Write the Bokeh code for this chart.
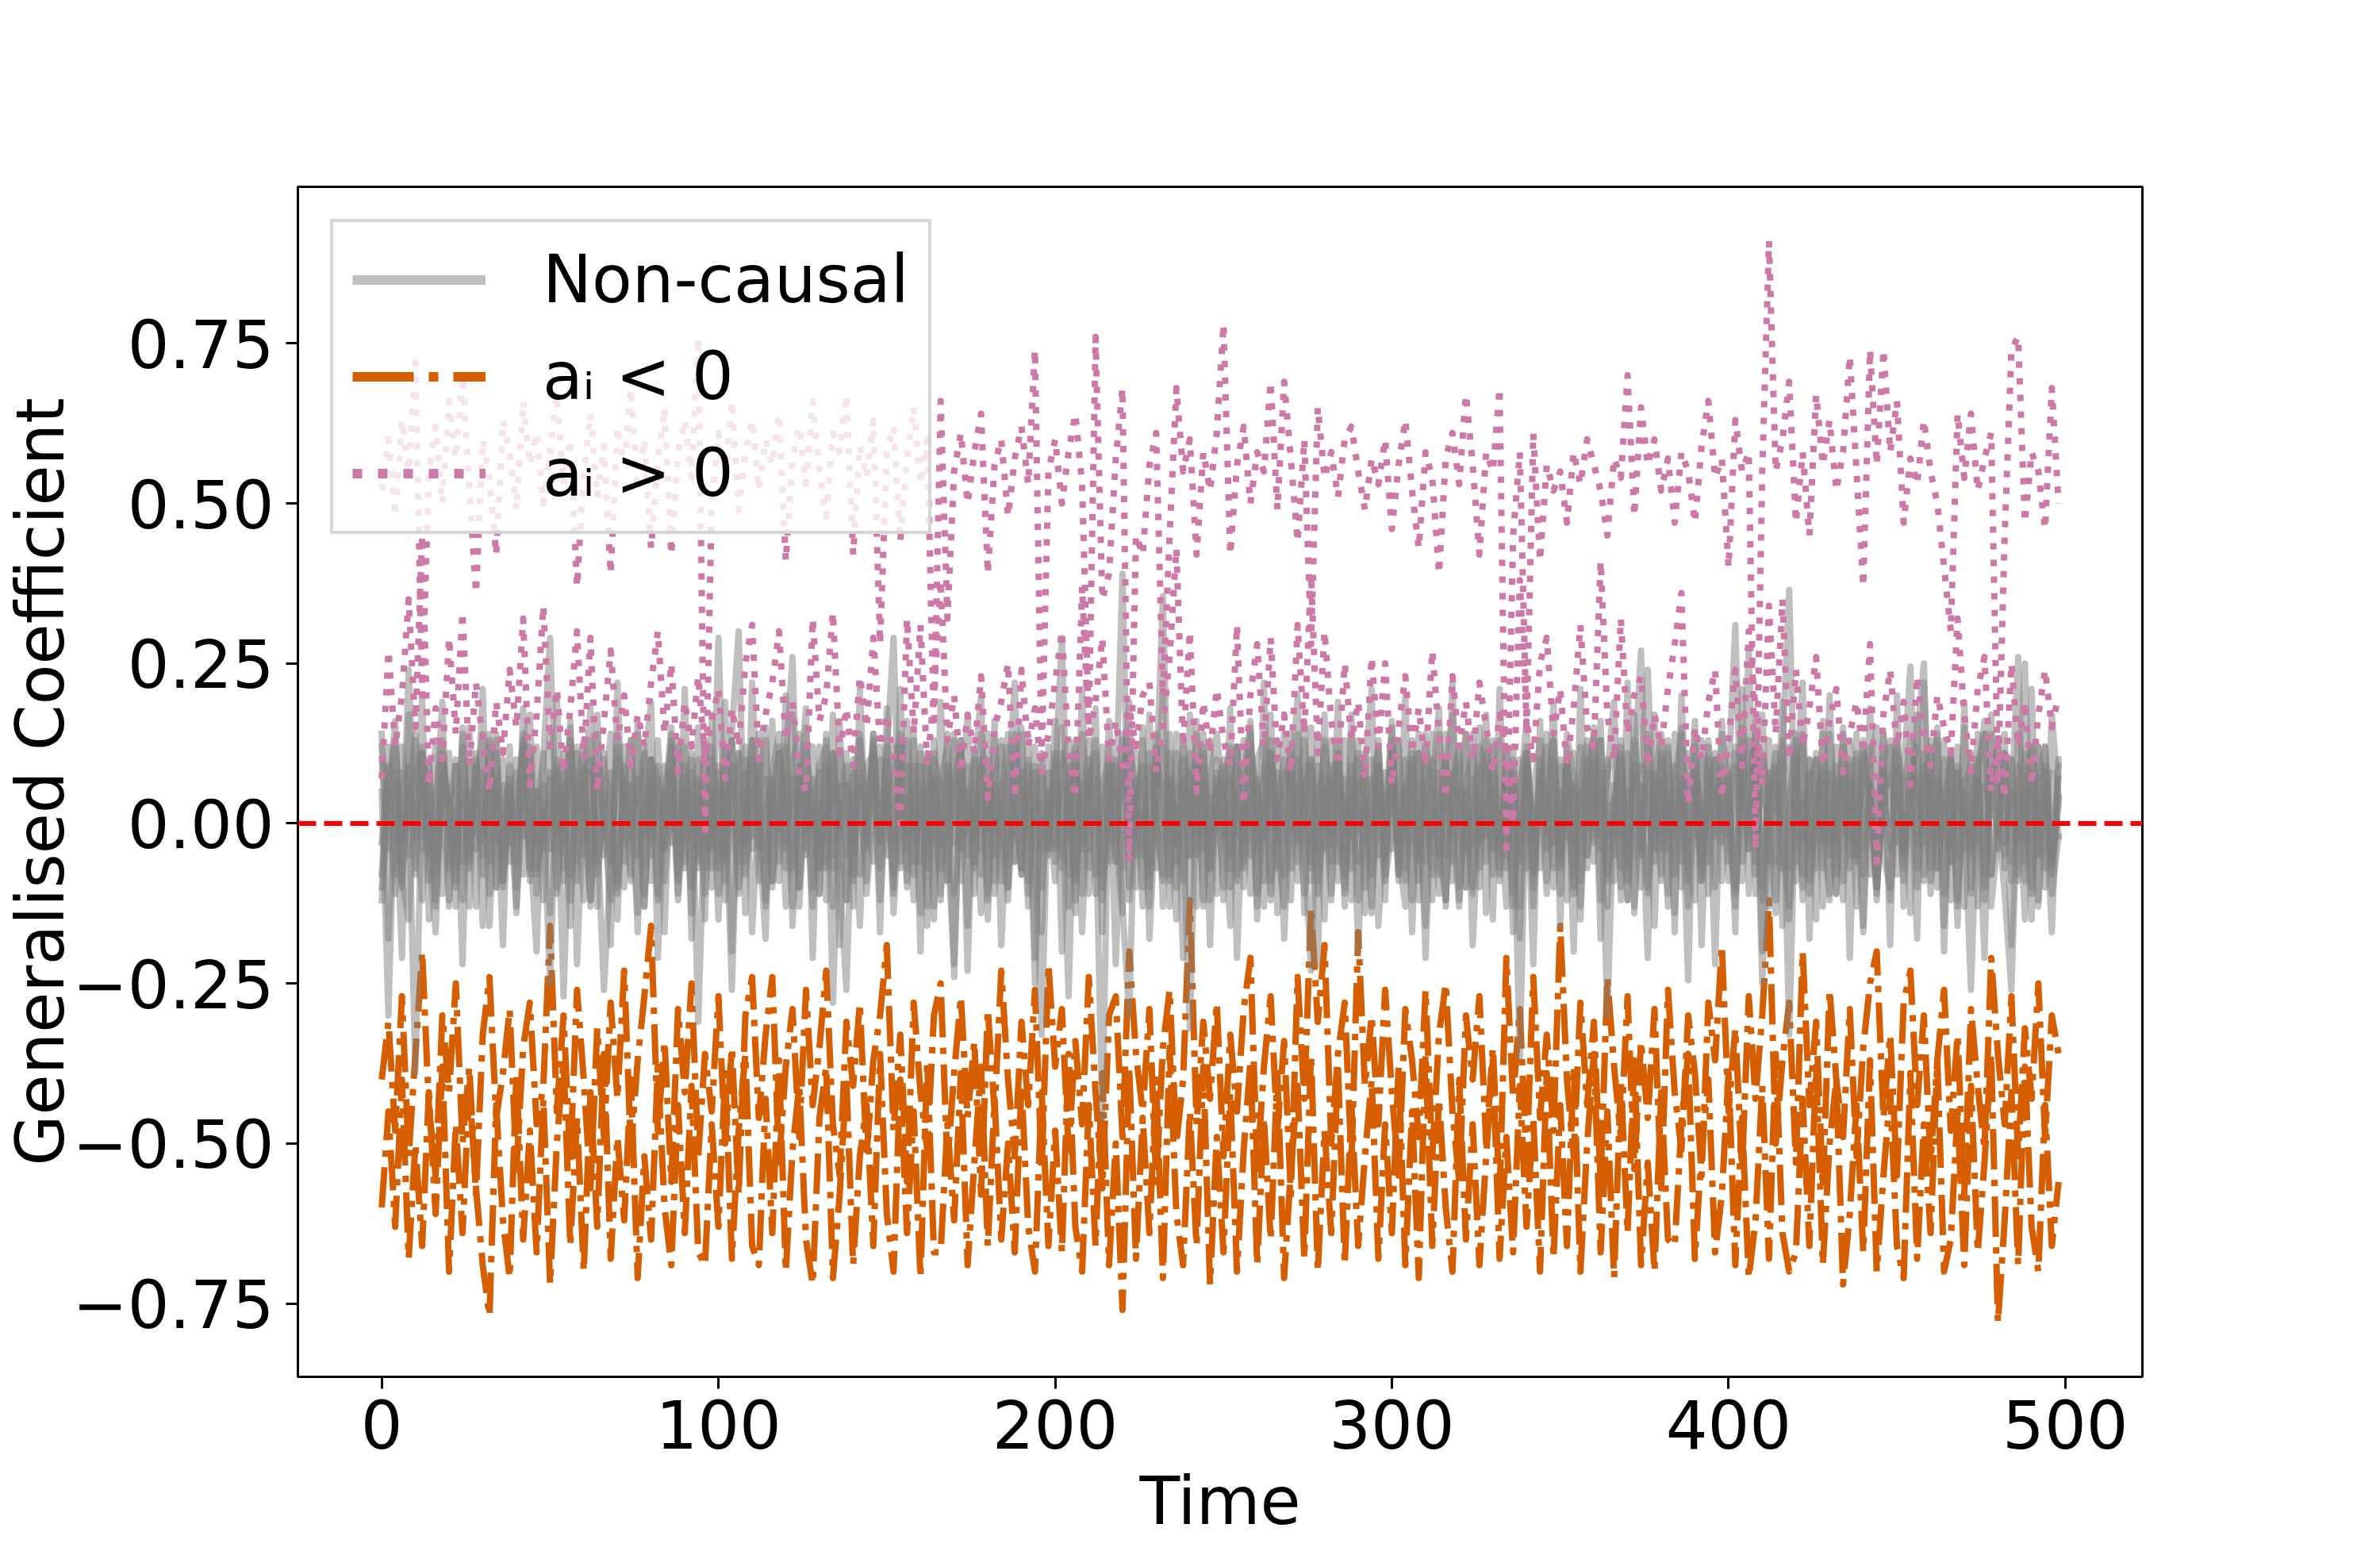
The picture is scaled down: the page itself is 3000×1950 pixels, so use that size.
from bokeh.plotting import figure
from bokeh.models import (Range1d, FixedTicker, CustomJSTickFormatter, Span,
                          Legend, LegendItem)
from bokeh.embed import file_html
from bokeh.resources import INLINE

# ---------------- data ----------------
TIME = list(range(0, 500, 2))
X_TICKS = [0, 100, 200, 300, 400, 500]
Y_TICKS = [-0.75, -0.5, -0.25, 0.0, 0.25, 0.5, 0.75]
LEGEND_LABELS = ["Non-causal", "a\u1d62 < 0", "a\u1d62 > 0"]
X_LABEL = "Time"
Y_LABEL = "Generalised Coefficient"

NONCAUSAL_1 = [
    .05, -.30, .08, -.06, .24, -.02, .11, -.09, .04, .13, -.07, .02, -.12, .09, .00, -.05, .14, -.10, .06, -.03, .10, -.08, .03, .12, -.04,
    .07, -.11, .02, .15, -.06, .09, -.13, .04, .11, -.02, -.09, .06, .13, -.05, .01, .10, -.12, .05, -.03, .12, -.07, .08, -.31, .03, -.04,
    .09, -.05, .14, .30, -.08, .02, .10, -.13, .06, -.01, .12, -.07, .04, .15, -.10, .03, -.06, .11, .00, -.12, .08, .05, -.09, .13, -.03,
    .06, -.10, .12, -.04, .09, -.14, .03, .11, -.07, .01, .14, -.09, .05, -.02, .10, -.11, .07, .13, -.05, .02, -.08, .09, -.03, -.33, .08,
    -.06, .11, .02, -.09, .14, -.04, .07, -.12, .03, .10, -.07, .05, -.02, .13, -.10, .06, .355, -.08, .01, .12, -.05, .09, -.13, .04, -.01,
    .10, -.07, .03, .13, -.11, .06, -.02, .09, -.14, .04, .11, -.06, .01, .15, -.09, .05, -.03, .12, -.08, .07, -.12, .02, .10, -.05, .08,
    -.04, .12, -.09, .05, .14, -.06, .02, -.11, .09, .00, -.13, .07, .11, -.03, .04, -.08, .13, -.05, .06, -.365, .10, -.07, .03, .12, -.10,
    .05, -.02, .11, -.09, .07, .14, -.12, .03, -.05, .10, -.07, .13, .01, -.10, .08, -.04, .12, -.08, .06, -.13, .09, .02, -.06, .11, -.03,
    .08, -.11, .04, .13, -.06, .10, -.02, -.14, .07, .12, -.09, .03, -.05, .11, .00, -.12, .09, .05, -.07, .14, -.04, .06, -.10, .02, .12,
    -.08, .05, .13, -.03, .09, -.11, .07, .01, -.06, .12, -.13, .04, .10, -.08, .06, -.02, .11, .03, .26, -.09, .08, -.05, .12, -.07, .03,
]
NONCAUSAL_2 = [
    -.03, .09, -.08, .12, .04, -.39, .07, -.05, .13, -.11, .02, .10, -.06, .05, -.13, .08, .00, .11, -.09, .06, -.02, .14, -.07, .03, .10,
    .29, -.04, .08, -.12, .03, .11, -.07, .14, -.02, .06, -.10, .09, .01, -.14, .12, -.05, .07, -.09, .04, .13, -.06, .02, .10, -.11, .05,
    -.07, .12, .03, -.10, .08, -.02, .14, -.06, .05, .11, -.13, .01, .09, -.04, .07, -.11, .13, -.28, .06, -.05, .10, -.08, .02, .12, -.03,
    .11, .29, -.06, .04, -.12, .09, -.03, .13, .00, -.09, .07, .12, -.05, .03, -.14, .10, -.01, .06, -.10, .14, -.07, .05, .09, -.04, .02,
    -.09, .06, -.27, .12, -.04, .10, -.11, .03, .08, -.06, .13, -.02, .05, -.13, .09, .01, -.08, .11, -.03, .07, -.12, .14, .00, -.07, .10,
    .04, -.10, .12, -.05, .08, -.13, .02, .11, -.07, .14, -.01, .06, -.11, .09, -.04, .13, .03, -.09, .07, -.02, .10, -.14, .05, .12, -.06,
    .09, -.03, .06, -.12, .11, .02, -.08, .14, -.05, .07, .12, -.10, .01, .09, -.06, .13, -.02, .04, -.11, .10, -.07, .05, .13, -.09, .03,
    -.05, .10, -.08, .06, .13, -.02, .08, -.30, .04, -.07, .11, .01, -.10, .14, -.04, .07, -.13, .09, .02, -.06, .12, -.09, .05, .10, -.01,
    .07, .31, -.06, .03, .12, -.10, .05, .09, -.04, -.13, .11, -.02, .08, -.07, .14, .00, -.11, .06, .10, -.05, .13, -.08, .02, .09, -.12,
    .04, -.09, .11, .06, -.03, .13, -.07, .02, .10, -.12, .05, -.04, .09, .14, -.08, .01, -.11, -.26, .07, -.06, .12, .03, -.10, .08, -.02,
]
NONCAUSAL_3 = [
    .10, -.04, .13, -.09, .06, .01, -.12, .08, -.06, .11, .03, -.10, .14, -.02, .07, -.08, .12, .00, -.05, .09, -.13, .04, .11, -.07, .02,
    -.25, .08, -.03, .12, -.09, .05, .13, -.06, .01, -.12, .10, .04, -.08, .14, -.02, .07, -.11, .09, .03, -.05, .12, -.10, .06, .00, -.07,
    .29, -.06, .09, -.11, .02, .13, -.04, .07, -.09, .11, .05, -.13, .08, -.01, .12, -.07, .03, .10, -.08, -.26, .06, .14, -.03, .09, -.12,
    .03, .12, -.07, .09, -.02, .05, -.13, .10, .06, -.09, .13, -.04, .01, .11, -.08, .07, -.11, .04, .14, -.06, .08, -.01, .12, -.10, .05,
    -.03, .09, .13, -.08, .06, -.11, .02, -.46, .10, .04, .39, -.12, .07, -.05, .11, .00, -.09, .14, -.06, .03, .08, -.13, .12, -.02, .06,
    -.10, .07, .02, -.06, .12, .05, -.09, .13, -.03, .08, -.12, .10, .01, -.07, .14, -.04, .06, .11, -.13, .09, -.01, .04, -.08, .13, -.05,
    .11, -.08, .04, .13, -.05, .09, -.12, .02, .10, -.06, .07, .14, -.10, .03, -.02, .12, -.09, .06, .08, -.13, .11, .00, -.07, .05, .13,
    -.06, .10, -.11, .04, .08, -.03, .13, -.09, .06, .01, -.12, .09, -.05, .12, .03, -.08, .11, -.02, .07, -.245, .14, -.06, .02, .10, -.09,
    .05, -.10, .12, -.04, .09, .02, -.13, .07, .11, .365, -.06, .13, -.09, .03, .08, -.11, .01, .12, -.05, .10, -.08, .06, -.12, .14, .00,
    .09, -.05, .03, .12, -.09, .07, .14, -.11, .02, .08, -.04, .11, -.13, .06, .01, .13, -.07, .10, -.02, .05, -.10, .12, .04, -.08, .07,
]
NONCAUSAL_4 = [
    -.08, .12, .02, -.10, .07, .13, -.04, .09, -.12, .05, .11, -.07, .03, -.13, .10, .01, -.06, .14, -.09, .04, .08, -.02, .12, -.11, .06,
    .00, .09, -.27, .06, .12, -.05, .10, -.08, .03, .14, -.11, .07, -.02, .05, .11, -.09, .13, -.04, .08, -.12, .02, .10, -.06, .12, -.03,
    .08, -.12, .05, .11, -.03, .13, -.09, .02, .07, -.06, .10, .26, -.10, .04, -.13, .09, .12, -.05, .01, .11, -.08, .06, -.02, .14, -.07,
    .12, -.03, .07, -.09, .13, -.06, .10, .04, -.11, .08, -.24, .11, .02, -.07, .09, .14, -.05, .03, -.10, .12, .06, -.13, .08, .00, -.04,
    .10, -.07, .05, .13, -.11, .08, .01, .12, -.06, .09, -.13, -.30, .11, .03, -.08, .14, -.02, .06, -.10, .13, .04, -.05, .09, -.12, .07,
    -.02, .11, -.08, .06, .14, -.04, .09, -.12, .03, .10, .05, -.09, .13, -.06, .01, .12, -.11, .08, .02, -.07, .11, .04, -.13, .09, -.01,
    .13, -.06, .10, .01, -.09, .12, .05, -.04, -.12, .08, .03, -.10, .14, -.07, .11, .02, -.05, .09, -.13, .06, .12, -.03, .07, -.11, .10,
    -.07, .09, .04, -.13, .12, .06, -.02, .10, -.09, .13, -.05, .08, .27, -.11, .07, .14, -.04, .02, -.10, .11, .05, -.08, .13, -.01, .09,
    .02, .12, -.09, .07, .14, -.25, .04, .11, -.07, .01, .13, -.12, .06, .10, -.03, .08, -.11, .14, .00, -.06, .09, .12, -.10, .05, -.04,
    .11, -.07, .06, .13, .25, -.09, .03, .10, -.12, .08, .01, -.05, .14, -.10, .07, .12, -.03, .05, -.08, .11, .02, -.13, .09, -.06, .04,
]
NONCAUSAL_5 = [
    .12, .03, -.11, .08, -.05, .14, -.02, .10, -.08, .06, -.13, .09, .04, -.07, .11, -.03, .13, -.10, .02, .07, -.06, .12, -.09, .05, .01,
    -.04, .10, -.07, .13, .02, -.12, .08, -.01, -.26, -.06, .14, .03, -.09, .07, -.13, .10, -.02, .05, .12, -.08, .09, .00, -.05, .13, -.10,
    .06, -.09, .13, .01, -.06, .10, .04, -.12, .08, .14, -.03, .07, -.10, .12, .02, -.07, .09, -.13, .11, .05, -.04, .08, -.11, .03, .12,
    -.05, .08, .14, -.10, .03, .11, -.07, .06, -.12, .09, .01, .13, -.23, .10, -.04, .07, -.09, .12, .02, -.06, .14, -.11, .05, .09, -.02,
    .07, .29, -.08, .11, -.03, .06, .13, -.10, .04, -.06, .09, .12, -.05, .02, -.13, .10, .05, -.09, .14, -.01, -.32, .08, .11, -.07, .03,
    .09, -.05, .12, -.10, .04, .07, -.13, .11, .01, -.08, .14, -.03, .06, .10, -.11, .02, .09, -.06, .13, -.12, .05, .08, -.02, .11, -.09,
    -.01, .13, -.07, .09, -.12, .04, .10, -.05, .14, -.09, .06, .01, -.11, .12, .08, -.04, .03, -.13, .10, -.06, .11, -.08, .05, .14, -.03,
    .10, -.12, .06, .02, -.07, .13, -.04, .08, .11, -.10, .05, -.13, .09, .03, -.06, .12, -.02, .07, .14, -.09, .01, .10, -.11, .04, .08,
    -.06, .09, .02, .27, -.08, .11, .05, -.12, .13, -.33, .07, -.10, .10, .04, -.07, .14, -.01, -.09, .09, -.05, .12, .03, -.11, .08, .06,
    .13, -.04, .08, -.10, .05, .12, -.07, .02, .11, -.13, .06, .09, -.03, .14, -.08, .04, .10, -.06, .01, .25, -.11, .07, .12, -.05, .09,
]
NONCAUSAL_6 = [
    -.10, .06, .13, -.03, .09, -.07, .11, .02, -.13, .08, .04, -.09, .12, -.05, .07, .14, -.11, .03, .10, -.06, .01, .13, -.08, .05, -.12,
    .08, -.02, .11, -.08, .05, .13, -.12, .09, .00, -.06, .12, -.10, .06, .03, -.13, .10, .07, -.04, .14, -.09, .02, .11, -.07, .04, .12,
    -.11, .05, -.26, .09, .12, -.04, .07, .13, -.10, .02, -.07, .10, .14, -.05, .03, .08, -.12, .11, -.02, .06, -.09, .13, .01, -.06, .10,
    .04, -.08, .10, .13, -.06, .02, .11, -.13, .07, .12, -.03, .05, .09, -.11, .14, -.01, .06, -.09, .12, .03, -.07, .10, -.25, .08, -.04,
    .11, -.05, .08, -.12, .02, .13, -.08, .06, .10, -.02, .14, -.10, .04, .09, -.06, .12, -.13, .07, .01, -.09, .11, .05, -.04, .13, -.11,
    .06, .12, -.09, .03, -.05, .10, .13, -.11, .08, .01, -.07, .14, -.03, -.23, .09, .05, -.12, .11, -.06, .02, .13, -.10, .07, .04, -.08,
    .12, -.09, .03, .10, -.06, .14, -.02, .08, -.12, .05, .11, -.04, .07, -.10, .13, .01, -.08, .12, .04, -.05, .09, -.13, .10, .02, -.07,
    .09, .04, -.10, .12, -.05, .07, .13, -.08, .02, .11, -.12, .06, .09, .24, -.03, .10, -.11, .14, -.06, .05, .08, -.09, .12, -.02, .06,
    -.09, .11, .06, -.04, .13, -.12, .08, .02, .10, -.07, .05, .14, -.11, .03, .09, -.05, .12, -.01, .07, -.13, .11, .04, -.08, .10, .13,
    -.03, .08, .245, -.07, .11, .04, -.10, .13, -.06, .09, .01, -.26, .07, -.12, .14, .03, -.05, .10, -.09, .06, .12, -.04, .08, -.11, -.02,
]
NONCAUSAL_7 = [
    .14, -.18, .06, -.21, .17, -.08, .20, -.15, .02, .19, -.12, .09, -.22, .15, -.04, .21, -.16, .07, -.19, .12, -.10, .18, -.03, -.20, .11,
    -.14, .20, -.09, .16, -.22, .05, .18, -.13, .10, -.19, .22, -.06, .13, -.17, .08, .19, -.21, .03, .15, -.11, .21, -.18, .07, -.15, .17,
    -.06, .19, -.20, .11, -.14, .22, -.02, -.18, .16, -.09, .20, -.16, .06, .18, -.21, .12, -.07, .17, -.19, .09, -.13, .21, -.04, .14, -.17,
    .18, -.11, .21, -.07, .15, -.20, .10, -.15, .19, -.03, -.22, .13, -.16, .08, .20, -.12, .16, -.19, .04, .22, -.08, .14, -.21, .11, -.05,
    .16, -.20, .09, -.14, .21, -.07, .18, -.17, .12, -.22, .06, .19, -.10, .15, -.18, .03, .20, -.13, .11, -.21, .17, -.04, .14, -.19, .08,
    -.12, .18, -.21, .07, .16, -.15, .22, -.09, .13, -.18, .05, .20, -.14, .10, -.22, .17, -.06, .19, -.11, .14, -.20, .08, .21, -.16, .02,
    .15, -.08, .20, -.17, .11, -.21, .06, .18, -.13, .22, -.10, .14, -.19, .03, .17, -.15, .21, -.07, .12, -.18, .09, -.22, .16, -.04, .19,
    -.16, .12, -.20, .21, -.05, .15, -.18, .08, .19, -.12, .22, -.14, .06, -.21, .17, -.09, .13, -.17, .20, -.03, .16, -.19, .10, -.22, .14,
    .07, -.17, .21, -.11, .16, -.20, .13, -.06, .19, -.15, .04, .22, -.18, .10, -.13, .20, -.08, .15, -.21, .11, -.16, .18, -.02, .14, -.19,
    .20, -.13, .08, -.18, .22, -.07, .15, -.20, .11, -.16, .19, -.10, .06, -.21, .17, -.04, .14, -.19, .09, -.15, .21, -.12, .05, -.17, .10,
]
NONCAUSAL_8 = [
    -.12, .04, .16, -.09, -.15, .07, .12, -.04, -.17, .10, .02, -.13, .15, -.06, .09, -.16, .03, .13, -.10, .05, -.14, .11, .17, -.08, .00,
    .14, -.10, .06, -.16, .11, .01, -.12, .17, -.05, .08, -.15, .12, -.02, .16, -.11, .04, .09, -.17, .13, -.03, .07, -.14, .15, -.07, .10,
    -.15, .08, .13, -.06, .10, -.17, .03, .15, -.09, .12, -.04, .17, -.13, .06, .01, -.11, .14, -.07, .16, -.12, .05, -.16, .09, .11, -.02,
    .10, -.14, .04, .16, -.08, .12, -.16, .07, -.03, .14, -.11, .02, .17, -.06, .09, -.15, .13, -.01, -.12, .08, .15, -.09, .04, -.17, .12,
    -.04, .15, -.13, .09, -.17, .06, .11, -.08, .16, -.02, -.14, .13, .05, -.10, .17, -.07, .12, .01, -.15, .10, -.05, .16, -.12, .07, .14,
    .03, -.16, .12, -.07, .15, -.11, .08, .17, -.04, -.13, .10, -.02, .16, -.09, .06, -.15, .13, .00, -.10, .17, -.06, .11, -.14, .09, -.12,
    .16, -.05, -.13, .11, .02, -.16, .14, -.08, .09, .17, -.12, .05, -.03, .15, -.14, .10, -.07, .12, -.17, .04, .16, -.10, .08, -.01, .13,
    -.11, .14, .07, -.15, .10, -.06, .16, -.13, .03, .12, -.09, .17, -.04, .08, -.16, .11, .02, -.14, .15, -.07, -.12, .13, .06, -.10, .16,
    .01, -.13, .15, .09, -.11, .17, -.06, .12, -.16, .04, .14, -.08, .10, -.15, .16, -.03, .07, -.12, .13, .02, -.17, .09, .15, -.05, -.10,
    .12, .06, -.14, .17, -.08, .03, .13, -.16, .10, -.05, .15, -.11, .08, .16, -.13, -.02, .11, -.09, .14, .05, -.15, .12, -.07, .17, .04,
]

NEG_1 = [
    -.40, -.31, -.48, -.27, -.52, -.36, -.20, -.44, -.55, -.30, -.42, -.25, -.50, -.38, -.58, -.33, -.24, -.46, -.39, -.29, -.54, -.35, -.28, -.47, -.41,
    -.16, -.45, -.30, -.53, -.26, -.40, -.57, -.32, -.49, -.28, -.43, -.23, -.51, -.37, -.27, -.16, -.48, -.34, -.56, -.29, -.42, -.25, -.52, -.36, -.45,
    -.27, -.50, -.35, -.58, -.30, -.24, -.46, -.33, -.24, -.53, -.38, -.29, -.49, -.26, -.44, -.35, -.23, -.47, -.55, -.31, -.41, -.28, -.52, -.37, -.30,
    -.19, -.48, -.33, -.56, -.28, -.42, -.51, -.30, -.25, -.53, -.39, -.27, -.46, -.34, -.58, -.29, -.45, -.23, -.40, -.52, -.31, -.44, -.26, -.54, -.22,
    -.38, -.29, -.51, -.34, -.47, -.24, -.42, -.57, -.30, -.27, -.49, -.20, -.36, -.45, -.29, -.56, -.35, -.26, -.50, -.40, -.12, -.47, -.31, -.43, -.28,
    -.52, -.33, -.45, -.29, -.21, -.54, -.38, -.27, -.48, -.34, -.58, -.24, -.43, -.13, -.31, -.19, -.50, -.36, -.28, -.53, -.17, -.41, -.30, -.47, -.26,
    -.42, -.55, -.29, -.37, -.49, -.26, -.52, -.33, -.25, -.45, -.56, -.30, -.40, -.27, -.50, -.35, -.58, -.21, -.43, -.29, -.53, -.24, -.46, -.33, -.48,
    -.16, -.40, -.52, -.28, -.44, -.31, -.56, -.24, -.38, -.49, -.27, -.54, -.34, -.46, -.29, -.57, -.26, -.42, -.51, -.30, -.39, -.55, -.28, -.37, -.19,
    -.45, -.32, -.54, -.27, -.43, -.30, -.12, -.50, -.37, -.28, -.53, -.20, -.44, -.31, -.57, -.26, -.40, -.49, -.29, -.52, -.35, -.25, -.20, -.46, -.33,
    -.55, -.28, -.23, -.44, -.30, -.53, -.37, -.26, -.48, -.33, -.58, -.29, -.41, -.51, -.21, -.36, -.47, -.27, -.52, -.32, -.43, -.25, -.49, -.30, -.36,
]
NEG_2 = [
    -.60, -.45, -.63, -.40, -.68, -.50, -.66, -.42, -.61, -.38, -.70, -.47, -.64, -.41, -.57, -.69, -.77, -.44, -.62, -.71, -.39, -.65, -.48, -.67, -.43,
    -.72, -.50, -.37, -.66, -.46, -.70, -.42, -.63, -.36, -.68, -.49, -.62, -.40, -.71, -.52, -.65, -.38, -.60, -.69, -.44, -.64, -.41, -.67, -.69, -.47,
    -.63, -.39, -.68, -.48, -.36, -.66, -.69, -.43, -.64, -.37, -.70, -.51, -.41, -.65, -.72, -.46, -.38, -.71, -.58, -.40, -.69, -.52, -.44, -.66, -.36,
    -.61, -.70, -.40, -.64, -.45, -.71, -.37, -.67, -.67, -.47, -.62, -.39, -.69, -.53, -.38, -.66, -.43, -.65, -.50, -.67, -.41, -.63, -.70, -.42, -.66,
    -.48, -.67, -.36, -.63, -.70, -.44, -.66, -.39, -.69, -.50, -.76, -.38, -.68, -.46, -.64, -.40, -.71, -.35, -.61, -.69, -.45, -.66, -.38, -.72, -.49,
    -.67, -.42, -.70, -.51, -.37, -.69, -.46, -.65, -.39, -.71, -.54, -.41, -.68, -.36, -.70, -.48, -.64, -.38, -.69, -.44, -.66, -.52, -.40, -.68, -.47,
    -.64, -.38, -.69, -.45, -.71, -.36, -.66, -.43, -.60, -.70, -.40, -.65, -.47, -.69, -.52, -.37, -.68, -.49, -.67, -.41, -.63, -.46, -.70, -.39, -.68,
    -.44, -.66, -.38, -.70, -.50, -.36, -.67, -.45, -.71, -.40, -.64, -.37, -.69, -.53, -.70, -.42, -.65, -.66, -.47, -.36, -.68, -.51, -.40, -.67, -.58,
    -.39, -.69, -.46, -.71, -.62, -.41, -.68, -.36, -.64, -.70, -.67, -.43, -.66, -.38, -.69, -.50, -.40, -.72, -.61, -.44, -.67, -.37, -.70, -.55, -.42,
    -.66, -.71, -.39, -.68, -.47, -.64, -.37, -.70, -.65, -.45, -.69, -.41, -.67, -.53, -.36, -.78, -.62, -.42, -.69, -.38, -.63, -.70, -.44, -.66, -.56,
]

POS_1 = [
    .52, .60, .48, .63, .55, .72, .20, .55, .62, .50, .66, .57, .70, .52, .36, .60, .54, .42, .63, .58, .49, .66, .56, .61, .50,
    .58, .67, .53, .60, .37, .55, .64, .51, .59, .39, .62, .56, .68, .52, .60, .43, .57, .65, .42, .58, .63, .54, .76, -.02, .50,
    .61, .55, .66, .49, .58, .63, .52, .60, .56, .64, .41, .57, .62, .53, .66, .55, .48, .61, .58, .67, .42, .59, .54, .63, .28,
    .58, .62, .44, .57, .65, .53, .60, .15, .66, .32, .55, .61, .50, .58, .64, .39, .56, .60, .48, .57, .62, .53, .74, .10, .55,
    .60, .50, .58, .64, .53, .15, .76, .35, .39, .57, .68, -.06, .45, .42, .56, .61, .20, .45, .68, .55, .60, .42, .58, .52, .61,
    .78, .42, .56, .62, .50, .58, .55, .69, .49, .69, .57, .44, .60, .28, .65, .54, .58, .51, .60, .62, .55, .49, .57, .53, .60,
    .46, .56, .63, .52, .43, .58, .54, .39, .57, .61, .53, .67, .56, .42, .58, .55, .68, -.05, .45, .58, .14, .61, .41, .56, .52,
    .55, .47, .58, .53, .60, .56, .52, .45, .57, .54, .70, .48, .65, .56, .60, .52, .57, .47, .58, .55, .47, .59, .66, .54, .57,
    .40, .63, .55, .58, -.04, .55, .91, .55, .60, .69, .47, .58, .45, .67, .56, .63, .52, .58, .73, .55, .37, .74, .56, .74, .58,
    .66, .47, .57, .53, .63, .55, .50, .40, .30, .64, .54, .64, .52, .57, .61, .06, .45, .74, .76, .47, .58, .55, .46, .68, .50,
]
POS_2 = [
    .07, .27, .12, .20, .35, .15, .45, .06, .18, .10, .29, .14, .33, .09, .22, .13, .05, .19, .11, .24, .15, .32, .06, .17, .34,
    .12, .21, .08, .18, .30, .10, .29, .05, .16, .27, .13, .20, .09, .17, .12, .22, .30, .14, .25, .08, .19, .12, .23, .10, .16,
    .21, .07, .18, .12, .25, .31, .10, .17, .22, .30, .13, .19, .08, .05, .32, .16, .20, .33, .11, .18, .09, .23, .15, .29, .12,
    .17, .10, .00, .32, .14, .31, .09, .20, .38, .13, .20, .08, .17, .11, .23, .04, .15, .19, .25, .04, .24, .12, .18, .08, .14,
    .22, .30, .11, .04, .37, .13, .19, .29, .10, .16, .09, .18, .12, .20, .22, .08, .15, .26, .43, .12, .30, .05, .19, .11, .21,
    .13, .09, .31, .03, .20, .28, .12, .29, .10, .17, .08, .31, .14, .39, .11, .30, .16, .09, .25, .13, .19, .07, .26, .12, .25,
    .06, .15, .23, .11, .18, .09, .27, .14, .04, .23, .12, .19, .10, .22, .15, .08, .17, .11, .00, .38, .16, .10, .25, .29, .14,
    .21, .09, .18, .31, .15, .12, .41, .17, .10, .32, .14, .20, .23, .09, .17, .12, .21, .28, .36, .03, .15, .10, .19, .24, .04,
    .13, .24, .09, .30, .18, .06, .34, .14, .35, .10, .24, .12, .18, .26, .09, .16, .21, .08, .14, .19, .11, .28, -.06, .17, .24,
    .12, .19, .06, .23, .14, .09, .20, .15, .11, .32, .17, .08, .21, .26, .05, .14, .04, .25, .12, .19, .06, .17, .24, .15, .20,
]

NONCAUSAL = [NONCAUSAL_1, NONCAUSAL_2, NONCAUSAL_3, NONCAUSAL_4,
             NONCAUSAL_5, NONCAUSAL_6, NONCAUSAL_7, NONCAUSAL_8]
NEGATIVE = [NEG_1, NEG_2]
POSITIVE = [POS_1, POS_2]

# ---------------- style ----------------
FONT = "DejaVu Sans"
FS = "83px"
C_GRAY = "gray"
C_NEG = "#D55E00"
C_POS = "#CC79A7"

W, H = 3000, 1950
BL, BR, BT, BB = 375, 300, 235, 215

all_vals = [v for s in NONCAUSAL + NEGATIVE + POSITIVE for v in s]
x_lo, x_hi = min(TIME), max(TIME)
y_lo, y_hi = min(all_vals), max(all_vals)
mx = 0.05 * (x_hi - x_lo)
my = 0.05 * (y_hi - y_lo)

p = figure(width=W, height=H, output_backend="svg", toolbar_location=None,
           x_range=Range1d(x_lo - mx, x_hi + mx),
           y_range=Range1d(y_lo - my, y_hi + my),
           min_border_left=BL, min_border_right=BR,
           min_border_top=BT, min_border_bottom=BB,
           background_fill_color="white", border_fill_color="white")
p.grid.visible = False
p.outline_line_color = "black"
p.outline_line_width = 3

p.xaxis.ticker = FixedTicker(ticks=X_TICKS)
p.yaxis.ticker = FixedTicker(ticks=Y_TICKS)
p.yaxis.formatter = CustomJSTickFormatter(
    code="return (tick < 0 ? '\u2212' : '') + Math.abs(tick).toFixed(2);")
for ax in (p.xaxis[0], p.yaxis[0]):
    ax.axis_line_color = "black"
    ax.axis_line_width = 3
    ax.major_tick_line_color = "black"
    ax.major_tick_line_width = 3
    ax.major_tick_out = 15
    ax.major_tick_in = 0
    ax.minor_tick_line_color = None
    ax.major_label_text_font = FONT
    ax.major_label_text_font_size = FS
    ax.major_label_text_color = "black"
    ax.axis_label_text_font = FONT
    ax.axis_label_text_font_size = FS
    ax.axis_label_text_font_style = "normal"
    ax.axis_label_text_color = "black"
p.xaxis[0].axis_label = X_LABEL
p.yaxis[0].axis_label = Y_LABEL
p.yaxis[0].major_label_standoff = 15
p.yaxis[0].axis_label_standoff = -12
p.xaxis[0].major_label_standoff = 13
p.xaxis[0].axis_label_standoff = 15

# ---------------- lines ----------------
for s in NEGATIVE:
    p.line(TIME[:len(s)], s, line_color=C_NEG, line_width=8,
           line_dash="51 13 8 13", line_join="round")
for s in NONCAUSAL:
    p.line(TIME[:len(s)], s, line_color=C_GRAY, line_alpha=0.5, line_width=8,
           line_join="round", line_cap="square")
for s in POSITIVE:
    p.line(TIME[:len(s)], s, line_color=C_POS, line_width=8,
           line_dash="8 13", line_join="round")

p.add_layout(Span(location=0, dimension="width", line_color="red",
                  line_width=6, line_dash="23 10"))

# legend proxies (single vertex: nothing is drawn in the plot area)
lg_gray = p.line(x=TIME[:1], y=NONCAUSAL_1[:1], line_color=C_GRAY,
                 line_alpha=0.5, line_width=12)
lg_neg = p.line(x=TIME[:1], y=NEG_1[:1], line_color=C_NEG, line_width=12,
                line_dash="77 19 12 19")
lg_pos = p.line(x=TIME[:1], y=POS_1[:1], line_color=C_POS, line_width=12,
                line_dash="12 20")

legend = Legend(items=[LegendItem(label=LEGEND_LABELS[0], renderers=[lg_gray]),
                       LegendItem(label=LEGEND_LABELS[1], renderers=[lg_neg]),
                       LegendItem(label=LEGEND_LABELS[2], renderers=[lg_pos])],
                location="top_left", margin=41, padding=24, spacing=25,
                glyph_width=168, glyph_height=97, label_height=97,
                label_standoff=72,
                label_text_font=FONT, label_text_font_size=FS,
                label_text_color="black",
                border_line_color="#d4d4d4", border_line_width=4,
                border_line_alpha=1.0,
                background_fill_color="white", background_fill_alpha=0.8)
p.add_layout(legend)

open("out.html", "w").write(file_html(p, INLINE, title="plot"))
